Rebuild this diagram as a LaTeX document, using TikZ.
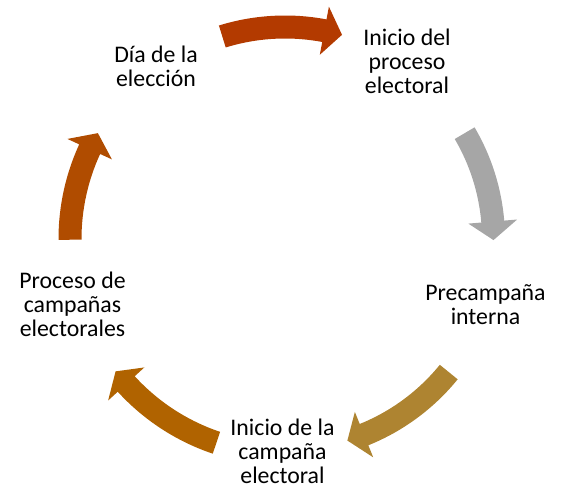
\documentclass[tikz,border=0pt]{standalone}
\usepackage{fontspec}
\setmainfont{Carlito}
\newcommand\cyclearrow[7]{% colour, R, w, h, tail, base, tip (TikZ angles)
  \fill[#1] ([shift={(#5:#2pt+#3pt)}]C) arc[start angle=#5, end angle=#6, radius=#2pt+#3pt]
    -- ([shift={(#6:#2pt+#4pt)}]C) -- ([shift={(#7:#2pt)}]C)
    -- ([shift={(#6:#2pt-#4pt)}]C) -- ([shift={(#6:#2pt-#3pt)}]C)
    arc[start angle=#6, end angle=#5, radius=#2pt-#3pt] -- cycle;}
\definecolor{ctop}{HTML}{B33A00}
\definecolor{cgray}{HTML}{A6A6A6}
\definecolor{cgold}{HTML}{AE8431}
\definecolor{cbl}{HTML}{B06300}
\definecolor{cleft}{HTML}{B04C00}
\begin{document}
\begin{tikzpicture}[x=1pt,y=1pt,
  lbl/.style={align=center, anchor=north, inner sep=0pt, text=black,
              font=\fontsize{23.8pt}{24.3pt}\selectfont}]
\useasboundingbox (0,0) rectangle (563,491);
\coordinate (C) at (285,252);
\cyclearrow{ctop}{212}{11.5}{24.5}{107.2}{79.3}{74.4}
\cyclearrow{cgray}{208.5}{11.5}{24.5}{30.5}{4.8}{-0.3}
\cyclearrow{cgold}{211}{11.5}{24.5}{-39.1}{-68}{-72.8}
\cyclearrow{cbl}{215}{11.5}{24.5}{-108.6}{-137.6}{-142}
\cyclearrow{cleft}{215}{11.5}{24.5}{-179.8}{-204.7}{-209.5}
\node[lbl] (dia) at (156,449) {\rule{0pt}{20pt}Día de la\\elección};
\node[lbl] (inicio) at (407,466) {\rule{0pt}{20pt}Inicio del\\proceso\\electoral};
\node[lbl] (precamp) at (485.5,211) {\rule{0pt}{20pt}Precampaña\\interna};
\node[lbl] (campana) at (282.5,76) {\rule{0pt}{20pt}Inicio de la\\campaña\\electoral};
\node[lbl] (proceso) at (72.5,223) {\rule{0pt}{20pt}Proceso de\\campañas\\electorales};
\end{tikzpicture}
\end{document}
